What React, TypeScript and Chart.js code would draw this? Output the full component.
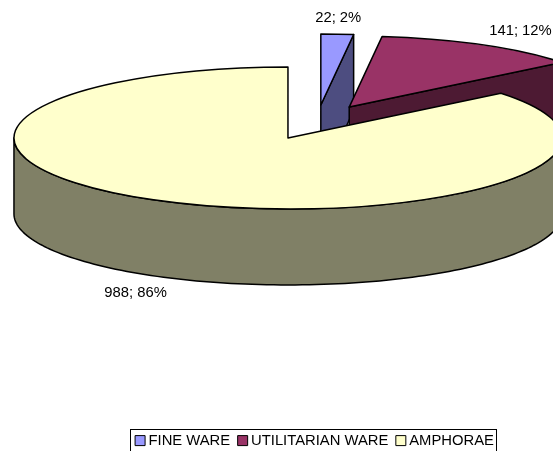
import React, { useEffect, useRef } from "react";
import { Chart, registerables } from "chart.js";

Chart.register(...registerables);

const categories = ["FINE WARE", "UTILITARIAN WARE", "AMPHORAE"];
const values = [22, 141, 988];
const percents = [2, 12, 86];
const topColors = ["#9999FF", "#993366", "#FFFFCC"];
const wallColors = ["#4D4D80", "#4D1A33", "#808066"];

const FONT = "'Liberation Sans', Arial, sans-serif";
const FONT_SIZE = 14.8;
const CENTER_X = 316.8;
const CENTER_Y = 122.3;
const RX = 274;
const RY = 71;
const DEPTH = 76;
const EXPLODE = 67;
const LINE = 1.5;

const pie3d = {
  id: "pie3d",
  beforeDatasetsDraw(chart: any) {
    const ctx: CanvasRenderingContext2D = chart.ctx;
    const arcs = chart.getDatasetMeta(0).data;
    ctx.save();
    ctx.lineJoin = "round";
    arcs.forEach((el: any, i: number) => {
      const a1 = el.startAngle;
      const a2 = el.endAngle;
      const mid = (a1 + a2) / 2;
      const ax = CENTER_X + EXPLODE * Math.cos(mid);
      const ay = CENTER_Y + EXPLODE * (RY / RX) * Math.sin(mid);
      const pt = (t: number, dy = 0): [number, number] => [
        ax + RX * Math.cos(t),
        ay + RY * Math.sin(t) + dy,
      ];
      const wall = (pts: [number, number][]) => {
        ctx.beginPath();
        pts.forEach((p, k) => (k ? ctx.lineTo(p[0], p[1]) : ctx.moveTo(p[0], p[1])));
        ctx.closePath();
        ctx.fillStyle = wallColors[i];
        ctx.fill();
        ctx.strokeStyle = "#000";
        ctx.lineWidth = LINE;
        ctx.stroke();
      };
      // radial walls facing the viewer
      if (Math.cos(a1) < -1e-3) {
        wall([[ax, ay], pt(a1), pt(a1, DEPTH), [ax, ay + DEPTH]]);
      }
      if (Math.cos(a2) > 1e-3) {
        wall([[ax, ay], pt(a2), pt(a2, DEPTH), [ax, ay + DEPTH]]);
      }
      // curved outer wall: only the part on the near side of the ellipse
      const ranges = [[0, Math.PI], [2 * Math.PI, 3 * Math.PI]];
      ranges.forEach(([lo, hi]) => {
        const s = Math.max(a1, lo);
        const e = Math.min(a2, hi);
        if (e > s) {
          const n = 120;
          const pts: [number, number][] = [];
          for (let k = 0; k <= n; k++) pts.push(pt(s + ((e - s) * k) / n));
          for (let k = n; k >= 0; k--) pts.push(pt(s + ((e - s) * k) / n, DEPTH));
          wall(pts);
        }
      });
      // top face, drawn by the library's own arc element
      const sx = RX / el.outerRadius;
      const sy = RY / el.outerRadius;
      ctx.save();
      ctx.translate(ax, ay);
      ctx.scale(sx, sy);
      ctx.translate(-el.x, -el.y);
      el.draw(ctx);
      ctx.restore();
      // outline of the top face with an even line width
      ctx.save();
      ctx.beginPath();
      ctx.translate(ax, ay);
      ctx.scale(sx, sy);
      ctx.moveTo(0, 0);
      ctx.arc(0, 0, el.outerRadius, a1, a2);
      ctx.closePath();
      ctx.restore();
      ctx.strokeStyle = "#000";
      ctx.lineWidth = LINE;
      ctx.stroke();
    });
    // value; percent labels
    ctx.fillStyle = "#000";
    ctx.font = `${FONT_SIZE}px ${FONT}`;
    ctx.textAlign = "center";
    ctx.textBaseline = "middle";
    arcs.forEach((el: any, i: number) => {
      const mid = (el.startAngle + el.endAngle) / 2;
      const c = Math.cos(mid);
      const s = Math.sin(mid);
      const ax = CENTER_X + EXPLODE * c;
      const ay = CENTER_Y + EXPLODE * (RY / RX) * s;
      const x = ax + RX * c + 80 * c * Math.min(1, Math.abs(c) / 0.3);
      const y = ay + RY * s + 16 * s + (s > 0 ? DEPTH : 0);
      ctx.fillText(`${values[i]}; ${percents[i]}%`, x, y);
    });
    ctx.restore();
    return false;
  },
  afterDraw(chart: any) {
    const ctx: CanvasRenderingContext2D = chart.ctx;
    const hits = chart.legend.legendHitBoxes;
    const first = hits[0];
    const last = hits[hits.length - 1];
    ctx.save();
    ctx.strokeStyle = "#000";
    ctx.lineWidth = 1;
    const l = Math.round(first.left - 9) + 0.5;
    const r = Math.round(last.left + last.width + 2) + 0.5;
    const t = Math.round(first.top - 4) + 0.5;
    ctx.strokeRect(l, t, r - l, 60);
    ctx.restore();
  },
};

export default function App() {
  const ref = useRef<HTMLCanvasElement>(null);
  useEffect(() => {
    const chart = new Chart(ref.current!, {
      type: "pie",
      data: {
        labels: categories,
        datasets: [
          {
            data: values,
            backgroundColor: topColors,
            borderWidth: 0,
          },
        ],
      },
      plugins: [pie3d],
      options: {
        animation: false,
        responsive: false,
        events: [],
        radius: 150,
        layout: { padding: { left: 80 } },
        plugins: {
          tooltip: { enabled: false },
          title: { display: false },
          legend: {
            display: true,
            position: "bottom",
            labels: {
              color: "#000",
              font: { family: FONT, size: FONT_SIZE },
              usePointStyle: true,
              boxWidth: 2,
              boxHeight: 10,
              padding: 11.5,
              generateLabels: (c: any) =>
                c.data.labels.map((text: string, i: number) => ({
                  text,
                  fillStyle: topColors[i],
                  strokeStyle: "#000",
                  lineWidth: 1,
                  pointStyle: "rect",
                  hidden: false,
                  index: i,
                })),
            },
          },
        },
      },
    } as any);
    return () => chart.destroy();
  }, []);
  return (
    <div style={{ position: "fixed", left: 0, top: 0, width: 553, height: 451, overflow: "hidden", background: "#fff" }}>
      <canvas ref={ref} width={553} height={458} style={{ display: "block", width: 553, height: 458 }} />
    </div>
  );
}
